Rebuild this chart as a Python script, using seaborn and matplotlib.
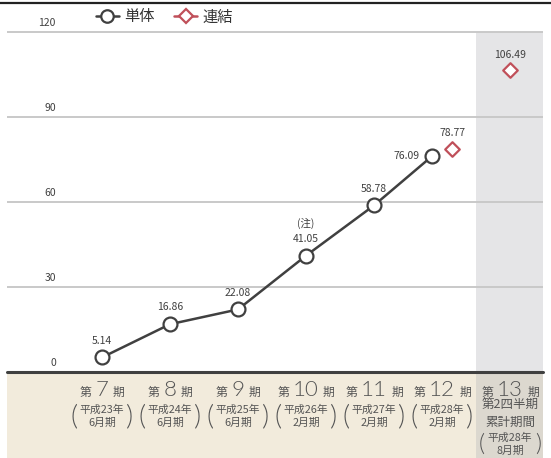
import matplotlib
matplotlib.use("Agg")
import matplotlib.pyplot as plt
import matplotlib.transforms as mtransforms
from matplotlib.lines import Line2D
from matplotlib.patches import Rectangle
import pandas as pd
import seaborn as sns

periods = ["7", "8", "9", "10", "11", "12", "13"]
sub_year = ["平成23年", "平成24年", "平成25年", "平成26年", "平成27年", "平成28年", "平成28年"]
sub_month = ["6月期", "6月期", "6月期", "2月期", "2月期", "2月期", "8月期"]
single = [5.14, 16.86, 22.08, 41.05, 58.78, 76.09]
consolidated = [78.77, 106.49]
cons_idx = [5, 6]
yticks = [0, 30, 60, 90, 120]

DARK = "#404040"
RED = "#c0505a"
W, H = 551, 458

sns.set_style("white")
plt.rcParams["font.family"] = ["Noto Sans CJK JP", "DejaVu Sans"]

fig = plt.figure(figsize=(W / 100, H / 100), dpi=100)
ax = fig.add_axes([7 / W, 1 - 372 / H, (543 - 7) / W, (372 - 3) / H])

# x positions, dodged where both series share a period
dodge = 0.15
single_x = [i - dodge if i in cons_idx else i for i in range(len(single))]
cons_x = [i + dodge if i < len(single) else i for i in cons_idx]

df_s = pd.DataFrame({"x": single_x, "v": single})
df_c = pd.DataFrame({"x": cons_x, "v": consolidated})

ax.set_xlim(-1.397, 6.485)
ax.set_ylim(0, 130.2)

# shaded latest period
ax.add_patch(Rectangle((5.5, 0), 6.485 - 5.5, 120, color="#e5e5e7", lw=0, zorder=0))
for y in yticks[1:]:
    ax.axhline(y, color="#c9c9c9", lw=1.4, zorder=1)
ax.axhline(0, color=DARK, lw=2.2, zorder=3, clip_on=False)

sns.lineplot(data=df_s, x="x", y="v", ax=ax, color=DARK, lw=1.8, marker="o",
             markersize=10, markerfacecolor="white", markeredgecolor=DARK,
             markeredgewidth=1.6, zorder=4)
sns.scatterplot(data=df_c, x="x", y="v", ax=ax, marker="D", s=55, color="white",
                edgecolor=RED, linewidth=1.6, zorder=4)

for sp in ax.spines.values():
    sp.set_visible(False)
ax.set_xticks([])
ax.set_yticks([])
ax.set_xlabel("")
ax.set_ylabel("")
ax.patch.set_alpha(0)

for y in yticks:
    ax.text(-0.68, y + 1.3, str(y), ha="right", va="bottom", fontsize=7.5, color=DARK)

# value labels
for i, (x, v) in enumerate(zip(single_x, single)):
    if i == len(single) - 1:
        ax.annotate(f"{v:.2f}", (x, v), xytext=(-8.5, 0), textcoords="offset points",
                    ha="right", va="center", fontsize=7.5, color=DARK)
    else:
        ax.annotate(f"{v:.2f}", (x, v), xytext=(0, 8.5), textcoords="offset points",
                    ha="center", va="bottom", fontsize=7.5, color=DARK)
ax.annotate("(注)", (single_x[3], single[3]), xytext=(0, 19), textcoords="offset points",
            ha="center", va="bottom", fontsize=7.5, color=DARK)
for x, v in zip(cons_x, consolidated):
    ax.annotate(f"{v:.2f}", (x, v), xytext=(0, 7.5), textcoords="offset points",
                ha="center", va="bottom", fontsize=7.5, color=DARK)

# top rule and label band
fig.add_artist(Line2D([0, 1], [1 - 3 / H, 1 - 3 / H], color="#222222", lw=1.6,
                      transform=fig.transFigure))
fig.add_artist(Rectangle((7 / W, 0), (543 - 7) / W, (H - 373) / H, color="#f2ebdc",
                         lw=0, transform=fig.transFigure, zorder=0))
fig.add_artist(Rectangle((476 / W, 0), (543 - 476) / W, (H - 373) / H, color="#dcd8cf",
                         lw=0, transform=fig.transFigure, zorder=0))

tr = mtransforms.blended_transform_factory(ax.transData, fig.transFigure)
TXT = "#555555"
NUMFONT = ["Lato", "DejaVu Sans"]


def py(p):
    return 1 - p / H


for i, p in enumerate(periods):
    num = ax.text(i, py(396), p, transform=tr, ha="center", va="baseline",
                  fontsize=16, color=TXT, zorder=5, family=NUMFONT, fontweight=300)
    ax.annotate("第", xy=(0, py(396)), xycoords=(num, tr), xytext=(-3, 0),
                textcoords="offset points", ha="right", va="baseline", fontsize=8.5,
                color=TXT)
    ax.annotate("期", xy=(1, py(396)), xycoords=(num, tr), xytext=(3, 0),
                textcoords="offset points", ha="left", va="baseline", fontsize=8.5,
                color=TXT)
    if i < len(periods) - 1:
        top = 410
        pfs = 20
    else:
        ax.text(i, py(405), "第2四半期", transform=tr, ha="center", va="center",
                fontsize=9, color=TXT)
        ax.text(i, py(422), "累計期間", transform=tr, ha="center", va="center",
                fontsize=9, color=TXT)
        top = 438
        pfs = 17
    ax.text(i, py(top), sub_year[i], transform=tr, ha="center", va="center",
            fontsize=7.8, color=TXT)
    ax.text(i, py(top + 13), sub_month[i], transform=tr, ha="center", va="center",
            fontsize=7.8, color=TXT)
    ax.text(i - 0.41, py(top + 6.5), "(", transform=tr, ha="center", va="center",
            fontsize=pfs, color=TXT, family=NUMFONT, fontweight=300)
    ax.text(i + 0.41, py(top + 6.5), ")", transform=tr, ha="center", va="center",
            fontsize=pfs, color=TXT, family=NUMFONT, fontweight=300)

handles = [
    Line2D([], [], color=DARK, lw=1.8, marker="o", markersize=9, markerfacecolor="white",
           markeredgewidth=1.6),
    Line2D([], [], color=RED, lw=1.8, marker="D", markersize=7.5, markerfacecolor="white",
           markeredgewidth=1.6),
]
fig.legend(handles, ["単体", "連結"], loc="center left", bbox_to_anchor=(88 / W, py(17)),
           ncol=2, frameon=False, fontsize=11, handlelength=1.5, handletextpad=0.35,
           columnspacing=1.3, labelcolor="#333333", borderpad=0)

fig.savefig("out.png", dpi=100)
